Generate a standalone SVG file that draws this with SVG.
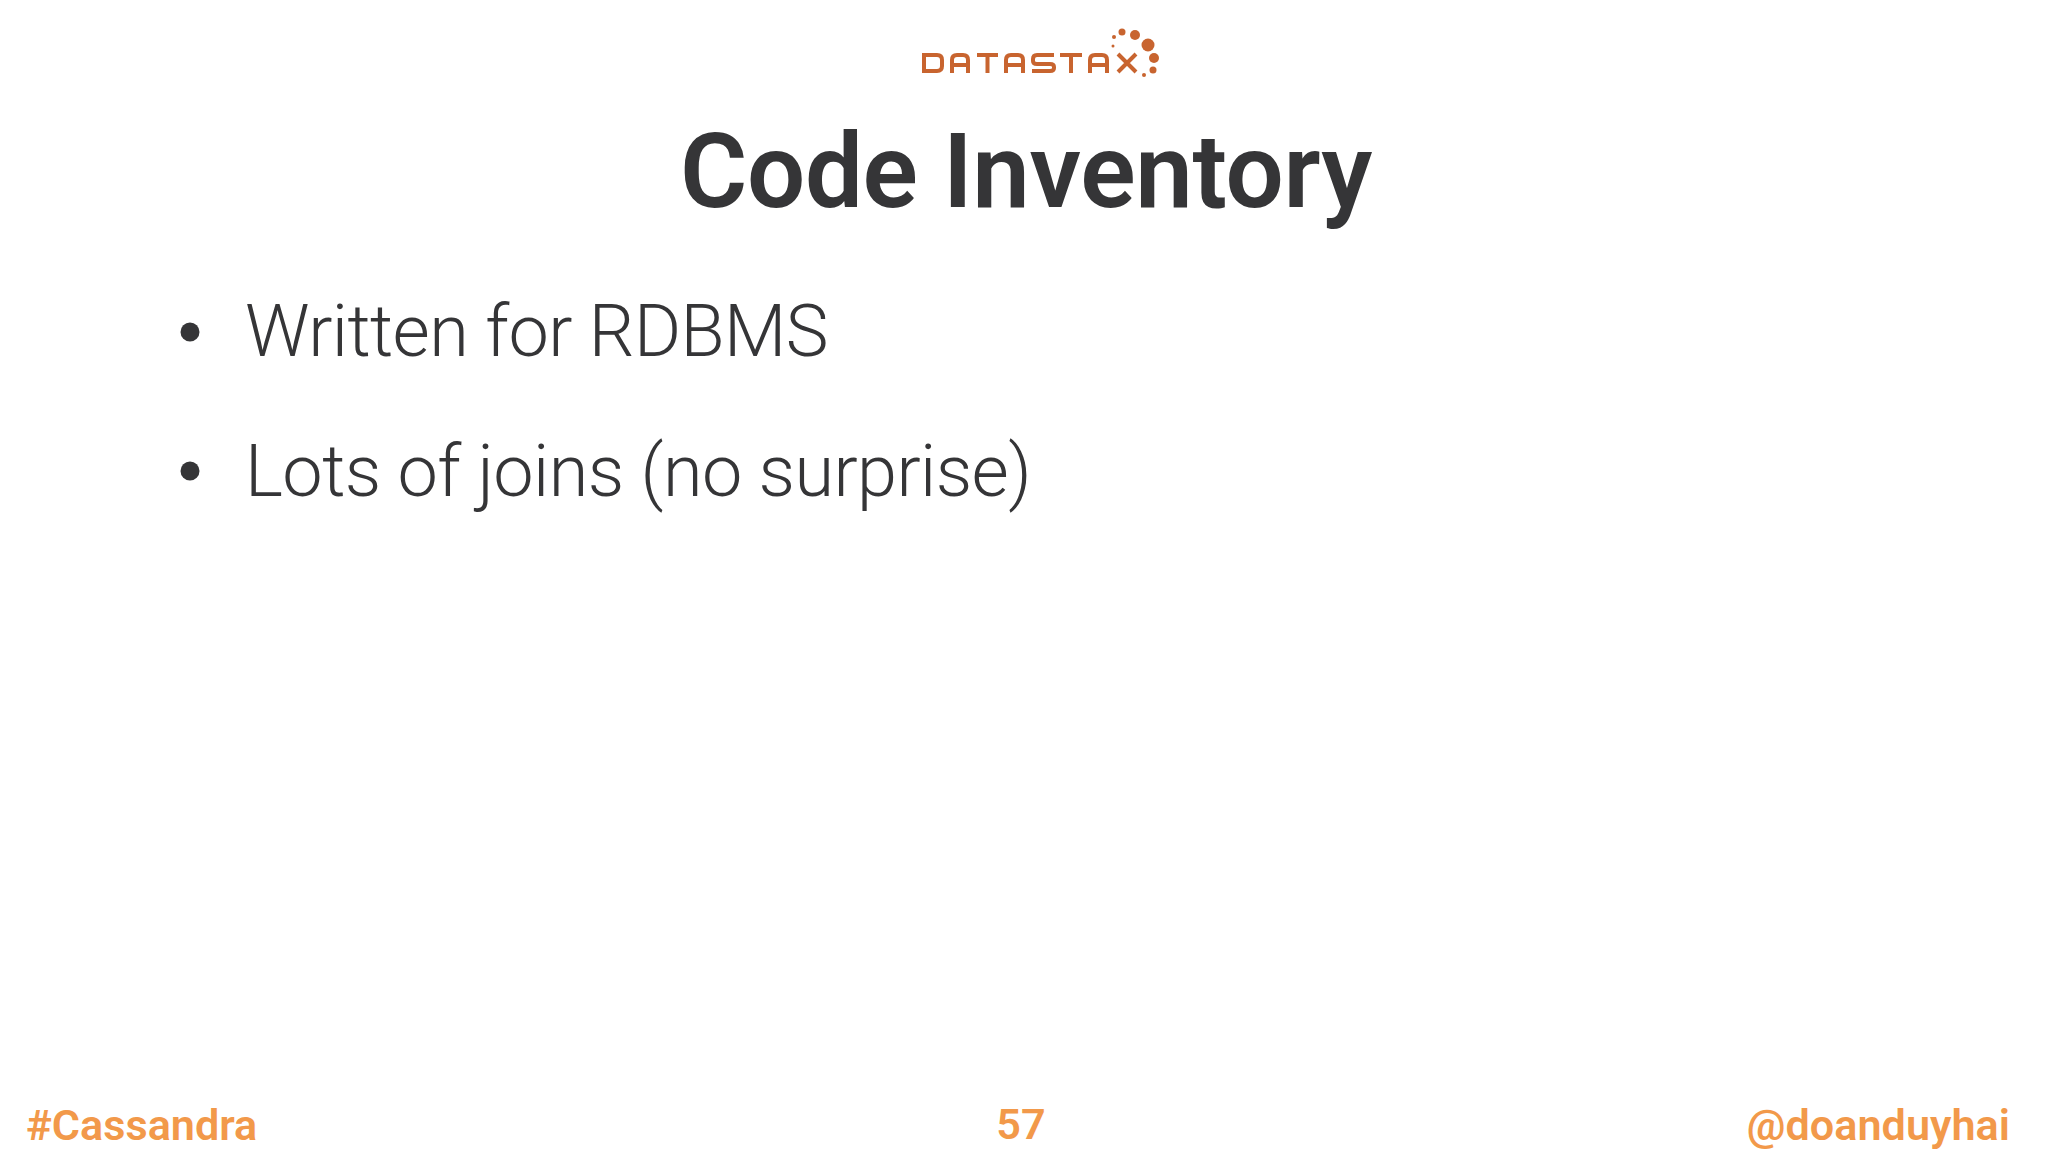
<svg xmlns="http://www.w3.org/2000/svg" width="2048" height="1152" viewBox="0 0 2048 1152">
<style>
.t{font-family:Roboto,"Liberation Sans",sans-serif;fill:#353537}
.b{font-size:72px;font-weight:300;letter-spacing:-.6px}
.f{font-family:Roboto,"Liberation Sans",sans-serif;font-size:43.200px;font-weight:600;fill:#f2994a}
.l{fill:none;stroke:#c8642f;stroke-width:4}
.d{fill:#c8642f}
</style>
<rect width="2048" height="1152" fill="#fff"/>
<g id="logo">
<path class="l" d="M924 55h13q5 0 5 5v6q0 5-5 5h-13zM952 73v-13q0-5 5-5h6q5 0 5 5v13M952 65h16M977 55h21M987.500 55v18M1006 73v-13q0-5 5-5h7q5 0 5 5v13M1006 65h17M1054 55h-17q-4 0-4 4v2q0 3 4 3h13q4 0 4 3v1q0 3-4 3h-18M1060 55h22M1071 55v18M1090 73v-13q0-5 5-5h7q5 0 5 5v13M1090 65h17M1118 54l18 18M1136 54l-18 18"/>
<circle class="d" cx="1148" cy="45" r="6.500"/><circle class="d" cx="1135" cy="35" r="5"/><circle class="d" cx="1122" cy="32" r="3.500"/><circle class="d" cx="1114" cy="37" r="2"/><circle class="d" cx="1113" cy="46" r="1.500"/><circle class="d" cx="1154" cy="58" r="5"/><circle class="d" cx="1153" cy="70" r="3.500"/><circle class="d" cx="1144" cy="75" r="2"/>
</g>
<text class="t" x="1026" y="207" font-size="103" font-weight="600" letter-spacing="-.3" text-anchor="middle">Code Inventory</text>
<g id="bullets">
<circle cx="190" cy="332" r="9.500" fill="#353537"/>
<text class="t b" x="245" y="356">Written for RDBMS</text>
<circle cx="190" cy="471" r="9.500" fill="#353537"/>
<text class="t b" x="245" y="495.500">Lots of joins (no surprise)</text>
</g>
<text class="f" x="26" y="1140">#Cassandra</text>
<text class="f" x="1021" y="1139" text-anchor="middle">57</text>
<text class="f" x="2010" y="1140" text-anchor="end">@doanduyhai</text>
</svg>
